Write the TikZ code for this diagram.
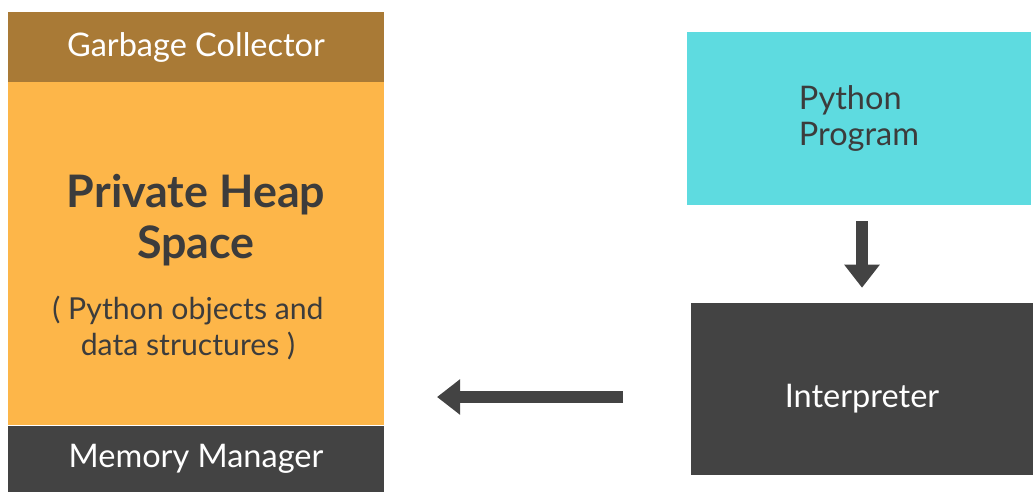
\documentclass[tikz,border=0pt]{standalone}
\usepackage{fontspec}
\setmainfont{Lato}
\usetikzlibrary{arrows.meta,positioning}
\definecolor{gcbrown}{RGB}{169,122,54}
\definecolor{heaporange}{RGB}{253,182,73}
\definecolor{mmdark}{RGB}{67,67,67}
\definecolor{progcyan}{RGB}{94,219,224}
\definecolor{textdark}{RGB}{60,60,60}

\begin{document}
\begin{tikzpicture}[
    x=0.02cm, y=-0.02cm,
    every node/.style={font=\fontsize{18.5}{21}\selectfont},
    band/.style={rectangle, draw=none, minimum width=7.52cm, inner sep=0pt, text=white},
    gcband/.style={band, fill=gcbrown, minimum height=1.42cm},
    heapbox/.style={band, fill=heaporange, minimum height=6.86cm},
    mmband/.style={band, fill=mmdark, minimum height=1.32cm},
    progbox/.style={rectangle, fill=progcyan, minimum width=6.88cm, minimum height=3.46cm, text=textdark, align=left},
    interpbox/.style={rectangle, fill=mmdark, minimum width=6.84cm, minimum height=3.44cm},
    bigarrow/.style={-{Triangle[length=0.46cm, width=0.68cm]}, line width=0.24cm, color=mmdark}
]
\useasboundingbox (0,0) rectangle (1033,491);

% Memory stack on the left
\node[gcband] (gc) at (196,47.5) {Garbage Collector};
\node[heapbox] (heap) at (196,253.5) {};
\node[mmband] (mm) at (196,459) {Memory Manager};

% Heap texts
\node[text=textdark, align=center, font=\fontsize{25.5}{29}\selectfont\bfseries] (heaptitle) at (196,220) {Private Heap\\Space};
\node[text=textdark, align=center, font=\fontsize{17.2}{21}\selectfont] (heapnote) at (188,328) {( Python objects and\\data structures )};

% Program and interpreter
\node[progbox] (prog) at (859,118.5) {Python\\Program};
\node[interpbox, label={[text=white, yshift=-0.2cm]center:Interpreter}] (interp) at (862,389) {};

% Connections
\draw[bigarrow, shorten <=9pt, shorten >=8.5pt] (prog.south -| interp.north) -- (interp.north);
\draw[bigarrow, shorten <=38.5pt, shorten >=30pt] ([yshift=-0.16cm]interp.west) -- ([yshift=-0.16cm]interp.west -| heap.east);

\end{tikzpicture}
\end{document}
